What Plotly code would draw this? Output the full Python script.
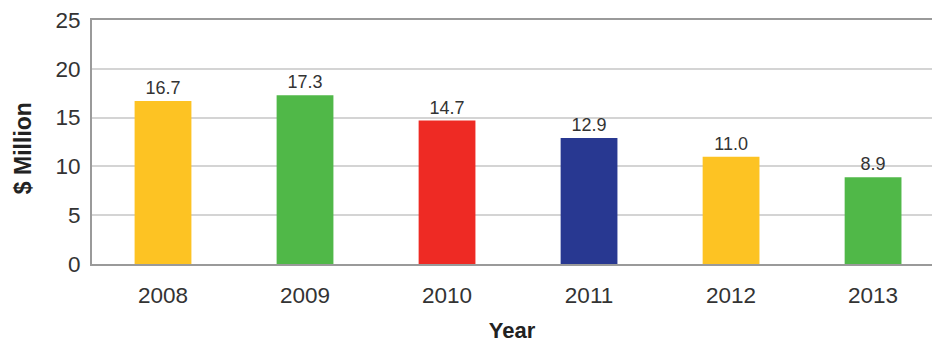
import plotly.graph_objects as go

years = ["2008", "2009", "2010", "2011", "2012", "2013"]
values = [16.7, 17.3, 14.7, 12.9, 11.0, 8.9]
labels = ["16.7", "17.3", "14.7", "12.9", "11.0", "8.9"]
colors = ["#FDC323", "#50B848", "#EE2A24", "#283891", "#FDC323", "#50B848"]

FONT = "Liberation Sans, Arial, sans-serif"

fig = go.Figure(go.Bar(
    x=list(range(len(years))), y=values, text=labels, textposition="outside",
    marker=dict(color=colors, line=dict(width=0)), width=0.40,
    textfont=dict(size=18, color="#333333", family=FONT),
    cliponaxis=False,
))

fig.update_layout(
    width=932, height=345, margin=dict(l=92, r=0, t=20, b=81),
    plot_bgcolor="white", paper_bgcolor="white", showlegend=False,
    font=dict(family=FONT, color="#333333"),
    uniformtext=dict(minsize=18, mode="show"),
    xaxis=dict(tickmode="array", tickvals=list(range(len(years))), ticktext=years,
               range=[-0.5, 5.415], showline=True, linecolor="#9a9a9a", linewidth=2,
               mirror=True, showgrid=False, ticks="", tickfont=dict(size=22.5),
               ticklabelstandoff=10,
               title=dict(text="<b>Year</b>", font=dict(size=22, color="#222222"), standoff=16)),
    yaxis=dict(range=[0, 25], dtick=5, showline=True, linecolor="#9a9a9a", linewidth=2,
               gridcolor="#d4d4d4", gridwidth=1.5, ticks="", tickfont=dict(size=22.5),
               ticklabelstandoff=5, zeroline=False),
    annotations=[dict(text="<b>$ Million</b>", xref="paper", yref="paper",
                      x=-0.0821, y=0.475, textangle=-90, showarrow=False,
                      xanchor="center", yanchor="middle",
                      font=dict(size=23, color="#222222", family=FONT))],
)

fig.write_html("out.html")
